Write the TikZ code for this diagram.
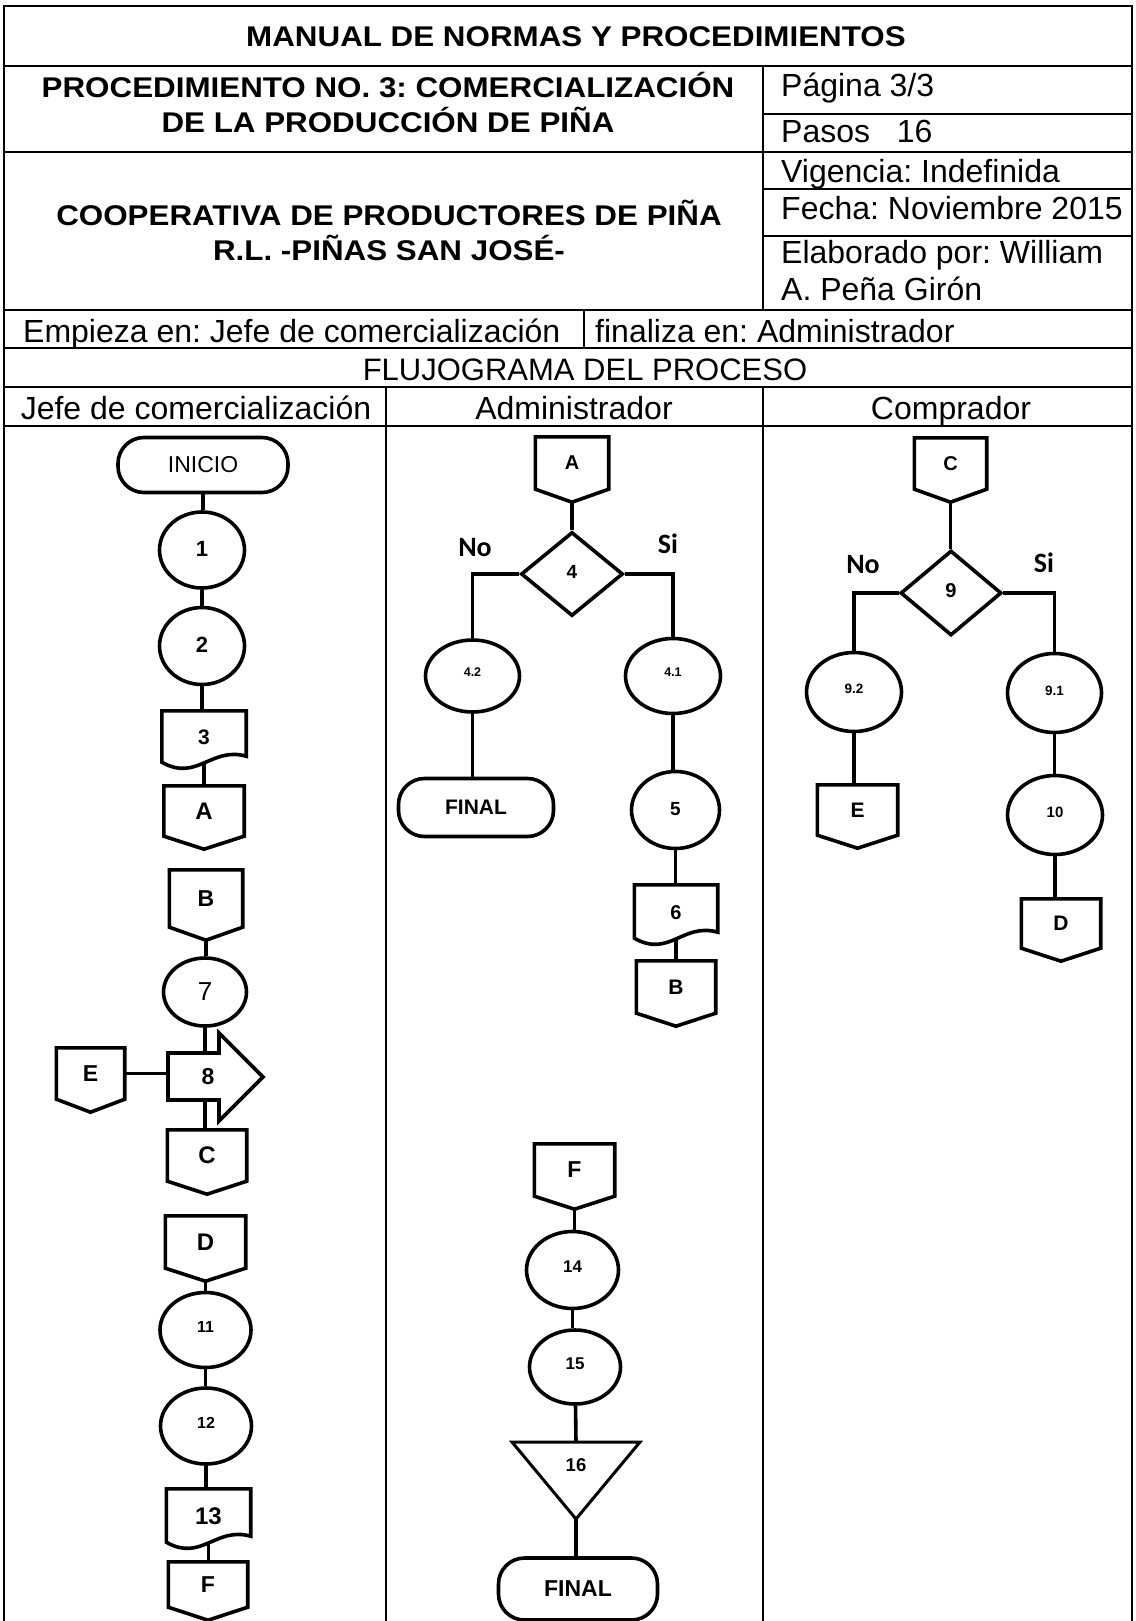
\documentclass[tikz,border=0pt]{standalone}
\usepackage{fontspec}
\setmainfont{Liberation Sans}
\newfontfamily\hdr[FakeStretch=1.1]{Liberation Sans}
\newfontfamily\calib{Carlito}
\usetikzlibrary{shapes.geometric,calc}
\newcommand\fsz[1]{\fontsize{#1}{#1}\selectfont}
\frenchspacing
\begin{document}
\begin{tikzpicture}[x=1pt,y=-1pt,
  tbl/.style={line width=2.4pt},
  shp/.style={draw, line width=3.6pt},
  conn/.style={line width=3.6pt},
  ov/.style={shp, ellipse, inner sep=0pt},
  term/.style={shp, rectangle, rounded corners=26pt, inner sep=0pt},
  offp/.style={rectangle, inner sep=0pt},
  docb/.style={rectangle, inner sep=0pt},
  dia/.style={shp, diamond, inner sep=0pt},
  txt/.style={inner sep=0pt},
  hb/.style={txt, font=\hdr\bfseries\fsz{28.5}},
  rg/.style={txt, font=\fsz{32}},
  nb/.style={font=\bfseries\fsz{#1}},
  yn/.style={txt, font=\calib\bfseries\fsz{28}}
]
\useasboundingbox (0,0) rectangle (1135,1621);

% ---------- table ----------
\draw[tbl] (4,1621) -- (4,6) -- (1132,6) -- (1132,1621);
\draw[tbl] (4,66) -- (1132,66);
\draw[tbl] (763,114) -- (1132,114);
\draw[tbl] (4,152) -- (1132,152);
\draw[tbl] (763,189) -- (1132,189);
\draw[tbl] (763,236) -- (1132,236);
\draw[tbl] (4,310) -- (1132,310);
\draw[tbl] (4,348) -- (1132,348);
\draw[tbl] (4,387) -- (1132,387);
\draw[tbl] (4,426) -- (1132,426);
\draw[tbl] (763,66) -- (763,310);
\draw[tbl] (584,310) -- (584,348);
\draw[tbl] (386,387) -- (386,1621);
\draw[tbl] (763,387) -- (763,1621);

\node[hb, anchor=base] (title) at (576,47) {MANUAL DE NORMAS Y PROCEDIMIENTOS};
\node[hb, anchor=base] (proc1) at (388,98) {PROCEDIMIENTO NO. 3: COMERCIALIZACIÓN};
\node[hb, anchor=base] (proc2) at (388,133) {DE LA PRODUCCIÓN DE PIÑA};
\node[hb, anchor=base] (coop1) at (389,226) {COOPERATIVA DE PRODUCTORES DE PIÑA};
\node[hb, anchor=base] (coop2) at (389,261) {R.L. -PIÑAS SAN JOSÉ-};

\node[rg, anchor=base west] (pag) at (781,97) {Página 3/3};
\node[rg, anchor=base west] (pasos) at (781,143) {Pasos\ \ \ 16};
\node[rg, anchor=base west] (vig) at (781,183) {Vigencia: Indefinida};
\node[rg, anchor=base west] (fecha) at (781,220) {Fecha: Noviembre 2015};
\node[rg, anchor=base west] (elab1) at (781,263) {Elaborado por: William};
\node[rg, anchor=base west] (elab2) at (781,300) {A. Peña Girón};

\node[rg, anchor=base west] (emp) at (23,342) {Empieza en: Jefe de comercialización};
\node[rg, anchor=base west] (fin) at (595,342) {finaliza en: Administrador};
\node[txt, font=\fsz{31}, anchor=base] (flujo) at (585,380.5) {FLUJOGRAMA DEL PROCESO};
\node[rg, anchor=base] (lane1) at (196,419.5) {Jefe de comercialización};
\node[rg, anchor=base] (lane2) at (574,419.5) {Administrador};
\node[rg, anchor=base] (lane3) at (951,419.5) {Comprador};

% ---------- Jefe de comercializacion ----------
\node[term, minimum width=170, minimum height=55, font=\fsz{23}] (inicio) at (203,465) {INICIO};
\node[ov, minimum width=85, minimum height=76, nb=22] (n1) at (202,550) {\raisebox{3pt}{1}};
\node[ov, minimum width=85, minimum height=77, nb=22] (n2) at (202,646) {\raisebox{3pt}{2}};
\node[docb, minimum width=84, minimum height=53, nb=21] (n3) at (204,737.5) {3};
\node[offp, minimum width=80, minimum height=50, nb=24] (nA1) at (204,811) {A};
\node[offp, minimum width=73, minimum height=57, nb=23] (nB1) at (206,898.5) {B};
\node[ov, minimum width=83, minimum height=68, font=\fsz{26}] (n7) at (205,992) {7};
\node[txt, minimum width=80, minimum height=49, nb=23] (n8) at (208,1076.5) {8};
\node[offp, minimum width=68, minimum height=51, nb=23] (nE1) at (90.5,1073.5) {E};
\node[offp, minimum width=79, minimum height=51, nb=24] (nC1) at (207,1155.5) {C};
\node[offp, minimum width=80, minimum height=52, nb=24] (nD1) at (205.5,1242) {D};
\node[ov, minimum width=91, minimum height=75, nb=16] (n11) at (205.5,1330) {\raisebox{6pt}{11}};
\node[ov, minimum width=91, minimum height=76, nb=16] (n12) at (206,1426) {\raisebox{6pt}{12}};
\node[docb, minimum width=84, minimum height=55, nb=24] (n13) at (208.5,1516.5) {13};
\node[offp, minimum width=79, minimum height=45, nb=23] (nF1) at (208,1584.5) {F};

% arrow of step 8
\draw[shp, line join=miter] (168,1053) -- (219,1053) -- (219,1033) -- (263,1077) -- (219,1121) -- (219,1100) -- (168,1100) -- cycle;

% ---------- Administrador ----------
\node[offp, minimum width=73, minimum height=52, nb=20] (nA2) at (572,463) {A};
\node[dia, minimum width=102, minimum height=84, nb=19] (d4) at (572,574) {\raisebox{5pt}{4}};
\node[yn] (no4) at (475,548) {No};
\node[yn] (si4) at (668,544) {Si};
\node[ov, minimum width=94, minimum height=72, nb=12.5] (n42) at (472.5,676) {\raisebox{7pt}{4.2}};
\node[ov, minimum width=95, minimum height=75, nb=12.5] (n41) at (673,676) {\raisebox{7pt}{4.1}};
\node[term, minimum width=155, minimum height=58, nb=21] (fin1) at (476,807.5) {FINAL};
\node[ov, minimum width=88, minimum height=77, nb=19] (n5) at (675.5,810) {\raisebox{3pt}{5}};
\node[docb, minimum width=83, minimum height=55, nb=20] (n6) at (676,912.5) {6};
\node[offp, minimum width=79, minimum height=52, nb=21] (nB2) at (676,987) {B};

\node[offp, minimum width=80, minimum height=52, nb=23] (nF2) at (574.5,1170) {F};
\node[ov, minimum width=92, minimum height=77, nb=17] (n14) at (572.5,1270) {\raisebox{6pt}{14}};
\node[ov, minimum width=91, minimum height=74, nb=17] (n15) at (575,1367) {\raisebox{6pt}{15}};
\node[txt, nb=18.5] (n16) at (576,1465) {16};
\coordinate (n16top) at (576,1442);
\coordinate (n16tip) at (576,1519);
\draw[line width=3pt, line join=miter] (512,1442) -- (640,1442) -- (n16tip) -- cycle;
\node[term, minimum width=159, minimum height=62, nb=23] (fin2) at (578,1589) {FINAL};

% ---------- Comprador ----------
\node[offp, minimum width=72, minimum height=51, nb=20] (nC2) at (950.5,463.5) {C};
\node[dia, minimum width=101, minimum height=85, nb=20] (d9) at (951,593) {\raisebox{5pt}{9}};
\node[yn] (no9) at (863,565) {No};
\node[yn] (si9) at (1044,563) {Si};
\node[ov, minimum width=95, minimum height=79, nb=13.5] (n92) at (854,692) {\raisebox{7pt}{9.2}};
\node[ov, minimum width=94, minimum height=79, nb=13.5] (n91) at (1054.5,693) {\raisebox{5pt}{9.1}};
\node[offp, minimum width=80, minimum height=50, nb=21] (nE2) at (857.5,810) {E};
\node[ov, minimum width=95, minimum height=79, nb=15] (n10) at (1055,815) {\raisebox{5pt}{10}};
\node[offp, minimum width=79, minimum height=49, nb=21] (nD2) at (1061,923.5) {D};

% off-page connector outlines
\foreach \n in {nA1,nB1,nE1,nC1,nD1,nF1,nA2,nB2,nF2,nC2,nE2,nD2}{
  \draw[shp, line join=miter] (\n.north west) -- (\n.north east) -- (\n.south east)
     -- ([yshift=-13pt]\n.south) -- (\n.south west) -- cycle;
  \coordinate (\n-tip) at ([yshift=-13pt]\n.south);
}
% document outlines
\foreach \n in {n3,n6,n13}{
  \draw[shp, line join=miter] (\n.north west) -- (\n.north east) -- ([yshift=8pt]\n.south east)
     .. controls ([xshift=-35pt,yshift=18pt]\n.south east) and ([xshift=35pt,yshift=-18pt]\n.south west)
     .. ([yshift=2pt]\n.south west) -- cycle;
}

% ---------- connectors ----------
\draw[conn] (inicio) -- (inicio |- n1.north);
\draw[conn] (n1) -- (n1 |- n2.north);
\draw[conn] (n2) -- (n2 |- n3.north);
\draw[conn] (n3.south) -- (n3.south |- nA1.north);
\draw[conn] (nB1-tip) -- (nB1-tip |- n7.north);
\draw[conn] (n7) -- (n7 |- n8.north);
\draw[conn] (n7 |- n8.south) -- (n7 |- nC1.north);
\draw[conn] (nE1) -- (nE1 -| n8.west);
\draw[conn] (nD1-tip) -- (nD1-tip |- n11.north);
\draw[conn] (n11) -- (n11 |- n12.north);
\draw[conn] (n12) -- (n12 |- n13.north);
\draw[conn] (n13.south) -- (n13.south |- nF1.north);

\draw[conn] (nA2-tip) -- (nA2-tip |- d4.north);
\draw[conn, line join=miter] (d4.west) -| (n42.north);
\draw[conn, line join=miter] (d4.east) -| (n41.north);
\draw[conn] (n42) -- (n42 |- fin1.north);
\draw[conn] (n41) -- (n41 |- n5.north);
\draw[conn] (n5) -- (n5 |- n6.north);
\draw[conn] (n6.south) -- (n6.south |- nB2.north);

\draw[conn] (nF2-tip) -- (nF2-tip |- n14.north);
\draw[conn] (n14) -- (n14 |- n15.north);
\draw[conn] (n15) -- (n16top);
\draw[conn] (n16tip) -- (n16tip |- fin2.north);

\draw[conn] (nC2-tip) -- (nC2-tip |- d9.north);
\draw[conn, line join=miter] (d9.west) -| (n92.north);
\draw[conn, line join=miter] (d9.east) -| (n91.north);
\draw[conn] (n92) -- (n92 |- nE2.north);
\draw[conn] (n91) -- (n91 |- n10.north);
\draw[conn] (n10) -- (n10 |- nD2.north);
\end{tikzpicture}
\end{document}
